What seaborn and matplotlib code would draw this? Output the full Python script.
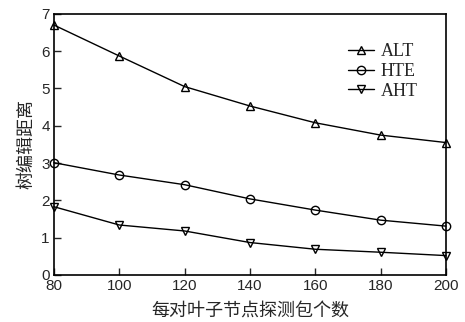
import matplotlib
matplotlib.use("Agg")
import matplotlib.pyplot as plt
import seaborn as sns
import pandas as pd

x_vals = [80, 100, 120, 140, 160, 180, 200]
alt = [6.70, 5.87, 5.05, 4.53, 4.08, 3.75, 3.55]
hte = [3.01, 2.68, 2.42, 2.04, 1.74, 1.47, 1.31]
aht = [1.83, 1.34, 1.18, 0.87, 0.69, 0.61, 0.52]
series_names = ["ALT", "HTE", "AHT"]
x_label = "每对叶子节点探测包个数"
y_label = "树编辑距离"

sns.set_style("ticks")
plt.rcParams['font.family'] = ['Liberation Sans', 'DejaVu Sans']

fig = plt.figure(figsize=(4.65, 3.22), dpi=100)
ax = fig.add_axes([0.116, 0.146, 0.843, 0.811])

markers = ['^', 'o', 'v']
for name, vals, m in zip(series_names, [alt, hte, aht], markers):
    df = pd.DataFrame({'x': x_vals, 'y': vals})
    sns.lineplot(data=df, x='x', y='y', ax=ax, color='black', lw=1.0,
                 marker=m, markersize=6, markerfacecolor='none',
                 markeredgecolor='black', markeredgewidth=1.0, label=name,
                 clip_on=False)

ax.set_xlim(80, 200)
ax.set_ylim(0, 7)
ax.set_xticks(x_vals)
ax.set_yticks(range(0, 8))
ax.tick_params(direction='in', length=5, width=1, labelsize=11,
               top=False, right=False, pad=3)
for s in ax.spines.values():
    s.set_linewidth(1.2)
    s.set_color('black')

ax.set_xlabel(x_label, fontsize=13, family=['Noto Sans CJK SC'], labelpad=6)
ax.set_ylabel(y_label, fontsize=13, family=['Noto Sans CJK SC'], labelpad=4)

leg = ax.legend(loc='upper right', bbox_to_anchor=(0.97, 0.95), frameon=False,
                prop={'family': 'Liberation Serif', 'size': 13},
                handlelength=1.4, handletextpad=0.4, labelspacing=0.15)

fig.savefig("out.png", dpi=100)
